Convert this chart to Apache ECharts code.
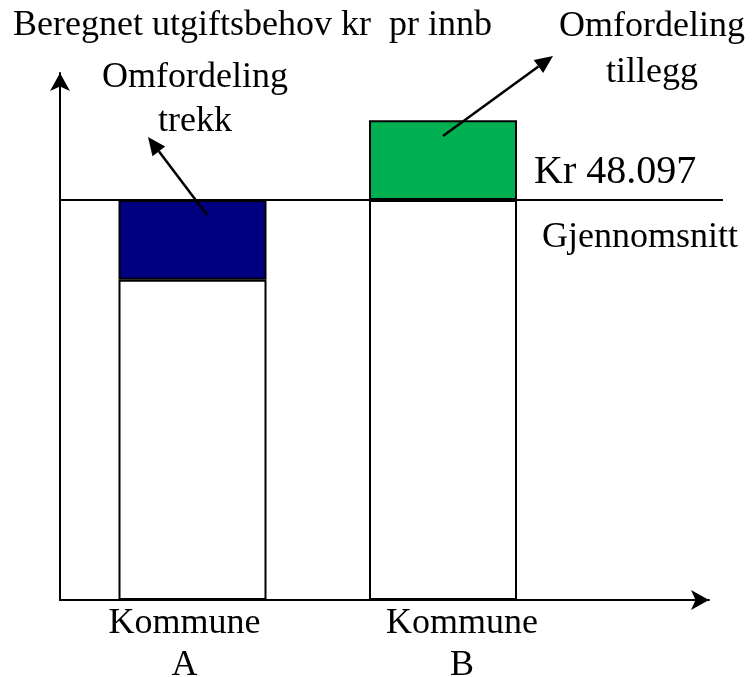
<!DOCTYPE html>
<html>
<head>
<meta charset="utf-8">
<script src="https://cdn.jsdelivr.net/npm/echarts@6/dist/echarts.min.js"></script>
<style>
html,body{margin:0;padding:0;background:#fff;}
#c{width:752px;height:677px;}
</style>
</head>
<body>
<div id="c"></div>
<script>
// ---- data ----
const CATEGORY_LABELS = ['Kommune\nA', 'Kommune\nB'];
const KOMMUNE_VALUES = [38500, 57700];      // beregnet utgiftsbehov kr pr innb
const AVERAGE = 48097;                      // gjennomsnitt
const AVERAGE_LABEL = 'Kr 48.097';
const AVERAGE_NAME = 'Gjennomsnitt';
const Y_MIN = 0;
const Y_MAX = 63370;
const TITLE = 'Beregnet utgiftsbehov kr  pr innb';
const NOTE_TREKK = ['Omfordeling', 'trekk'];
const NOTE_TILLEGG = ['Omfordeling', 'tillegg'];

// ---- styling ----
const FONT = 'Liberation Serif, Times New Roman, serif';
const NAVY = '#000080';
const GREEN = '#00B050';

const baseData = KOMMUNE_VALUES.map(v => Math.min(v, AVERAGE));
const diffData = KOMMUNE_VALUES.map(v => ({
  value: Math.abs(v - AVERAGE),
  itemStyle: { color: v < AVERAGE ? NAVY : GREEN }
}));

const chart = echarts.init(document.getElementById('c'), null, { renderer: 'canvas' });

const option = {
  animation: false,
  backgroundColor: '#ffffff',
  grid: [
    { left: 60, right: 43, top: 73, bottom: 77, outerBoundsMode: 'none', containLabel: false },
    { left: 67.25, right: 183.75, top: 73, bottom: 77, outerBoundsMode: 'none', containLabel: false }
  ],
  xAxis: [
    {
      gridIndex: 0, type: 'value', min: 0, max: 1,
      axisLine: { show: true, symbol: ['none', 'arrow'], symbolSize: [15, 18], lineStyle: { color: '#000', width: 2 } },
      axisTick: { show: false }, axisLabel: { show: false }, splitLine: { show: false }
    },
    {
      gridIndex: 1, type: 'category', data: CATEGORY_LABELS,
      axisLine: { show: false }, axisTick: { show: false }, splitLine: { show: false },
      axisLabel: {
        margin: 3,
        interval: 0,
        formatter: (val, idx) => val.split('\n').map(s => '{' + (idx === 0 ? 'a' : 'b') + '|' + s + '}').join('\n'),
        rich: {
          a: { fontFamily: FONT, fontSize: 36, color: '#000', lineHeight: 42, padding: [0, 16, 0, 0] },
          b: { fontFamily: FONT, fontSize: 36, color: '#000', lineHeight: 42, padding: [0, 0, 0, 38] }
        }
      }
    }
  ],
  yAxis: [
    {
      gridIndex: 0, type: 'value', min: Y_MIN, max: Y_MAX,
      axisLine: { show: true, symbol: ['none', 'arrow'], symbolSize: [15, 18], lineStyle: { color: '#000', width: 2 } },
      axisTick: { show: false }, axisLabel: { show: false }, splitLine: { show: false }
    },
    {
      gridIndex: 1, type: 'value', min: Y_MIN, max: Y_MAX,
      axisLine: { show: false }, axisTick: { show: false }, axisLabel: { show: false }, splitLine: { show: false }
    }
  ],
  series: [
    {
      type: 'bar', xAxisIndex: 1, yAxisIndex: 1, stack: 'k',
      barWidth: 148,
      data: baseData,
      itemStyle: { color: '#ffffff', borderColor: '#000', borderWidth: 2 },
      z: 3
    },
    {
      type: 'bar', xAxisIndex: 1, yAxisIndex: 1, stack: 'k',
      barWidth: 148,
      data: diffData,
      itemStyle: { borderColor: '#000', borderWidth: 2 },
      z: 3
    }
  ]
};
chart.setOption(option);

const yAvg = chart.convertToPixel({ yAxisIndex: 0 }, AVERAGE);

function arrow(x1, y1, x2, y2, len, half) {
  const ang = Math.atan2(y2 - y1, x2 - x1);
  const bx = x2 - len * Math.cos(ang), by = y2 - len * Math.sin(ang);
  const px = -Math.sin(ang) * half, py = Math.cos(ang) * half;
  return [
    { type: 'line', shape: { x1, y1, x2: bx, y2: by }, style: { stroke: '#000', lineWidth: 2.5 }, z: 20 },
    { type: 'polygon', shape: { points: [[x2, y2], [bx + px, by + py], [bx - px, by - py]] }, style: { fill: '#000' }, z: 20 }
  ];
}

const textStyle = (extra) => Object.assign({ fill: '#000', fontFamily: FONT, fontSize: 36 }, extra);

chart.setOption({
  graphic: [
    { type: 'line', shape: { x1: 60, y1: yAvg, x2: 723, y2: yAvg }, style: { stroke: '#000', lineWidth: 2 }, z: 10 },
    { type: 'text', x: 13, y: 26, style: textStyle({ text: TITLE, textAlign: 'left', textVerticalAlign: 'middle' }), z: 10 },
    { type: 'text', x: 652, y: 27, style: textStyle({ text: NOTE_TILLEGG[0], textAlign: 'center', textVerticalAlign: 'middle' }), z: 10 },
    { type: 'text', x: 652, y: 73, style: textStyle({ text: NOTE_TILLEGG[1], textAlign: 'center', textVerticalAlign: 'middle' }), z: 10 },
    { type: 'text', x: 195, y: 78, style: textStyle({ text: NOTE_TREKK[0], textAlign: 'center', textVerticalAlign: 'middle' }), z: 10 },
    { type: 'text', x: 195, y: 122, style: textStyle({ text: NOTE_TREKK[1], textAlign: 'center', textVerticalAlign: 'middle' }), z: 10 },
    { type: 'text', x: 534, y: yAvg - 28, style: textStyle({ text: AVERAGE_LABEL, fontSize: 40, textAlign: 'left', textVerticalAlign: 'middle' }), z: 10 },
    { type: 'text', x: 542, y: yAvg + 38, style: textStyle({ text: AVERAGE_NAME, textAlign: 'left', textVerticalAlign: 'middle' }), z: 10 },
    ...arrow(207, 215, 148, 137, 18, 8),
    ...arrow(443, 136, 553, 56, 18, 8)
  ]
});
</script>
</body>
</html>
